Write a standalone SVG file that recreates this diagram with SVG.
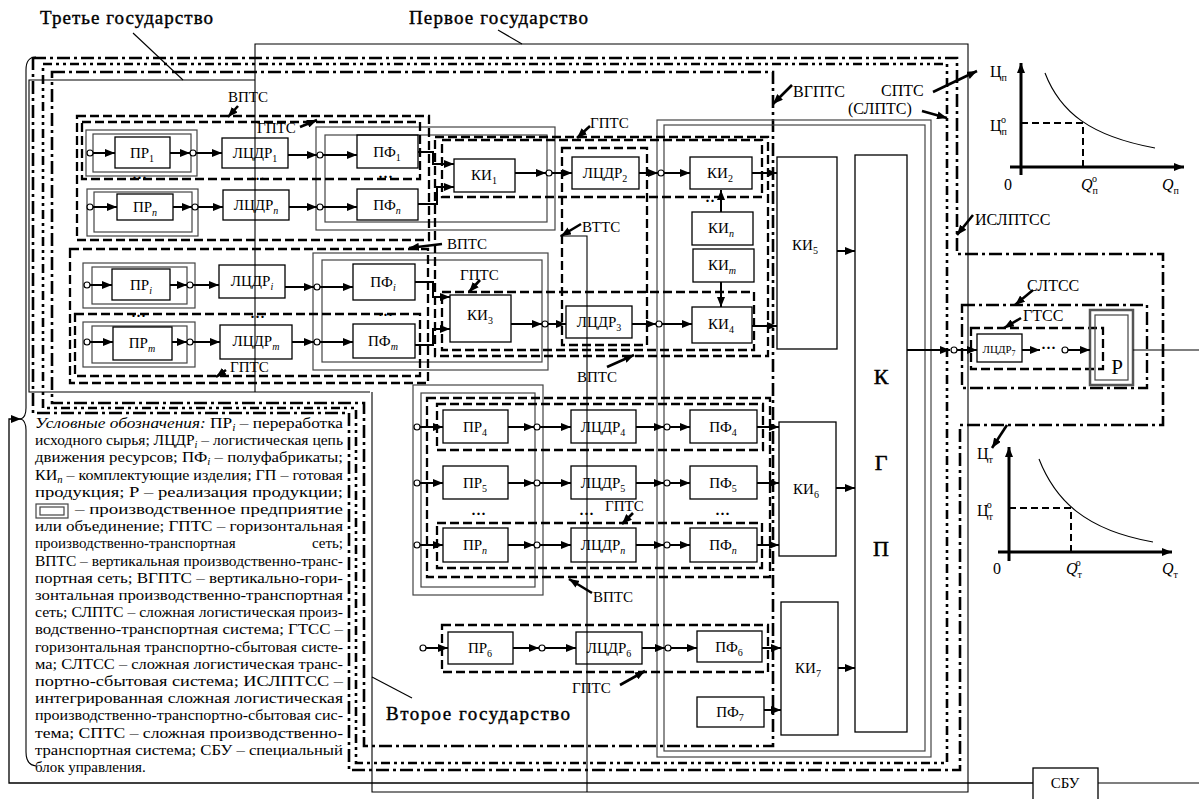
<svg xmlns="http://www.w3.org/2000/svg" width="1199" height="799" viewBox="0 0 1199 799" font-family="'Liberation Serif', 'Times New Roman', serif">
<style>
text{font-family:'Liberation Serif','Times New Roman',serif}
.t{font-size:15px;fill:#000}
.big{font-size:19px;fill:#000;stroke:#000;stroke-width:0.4}
.kgp{font-size:22px;fill:#000;stroke:#000;stroke-width:0.5}
.lg{font-size:15px;fill:#000}
.i{font-style:italic}
.bx{fill:none;stroke:#000;stroke-width:1.3}
.en{fill:none;stroke:#444;stroke-width:1.2}
.da{fill:none;stroke:#000;stroke-width:2.3;stroke-dasharray:9 4}
.dd{fill:none;stroke:#000;stroke-width:2.6;stroke-dasharray:13 4 3 4}
.dd2{fill:none;stroke:#000;stroke-width:2.6;stroke-dasharray:9 4 3 4 3 4}
.ln{fill:none;stroke:#000;stroke-width:1.1}
.ar{fill:none;stroke:#000;stroke-width:2;marker-end:url(#ah)}
.pt{fill:none;stroke:#000;stroke-width:2.6;marker-end:url(#ah)}
.c{fill:#fff;stroke:#000;stroke-width:1.2}
.ax{fill:none;stroke:#000;stroke-width:3;marker-end:url(#ah)}
.gd{fill:none;stroke:#000;stroke-width:2;stroke-dasharray:7 4}
</style>
<defs>
<marker id="ah" viewBox="0 0 10 8" refX="10" refY="4" markerWidth="10" markerHeight="8" markerUnits="userSpaceOnUse" orient="auto"><path d="M0,0 L10,4 L0,8 z"/></marker>
</defs>

<g id="countries">
<path class="ln" d="M370,392 H29 V80 H255"/>
<path class="ln" d="M255,392 V44 H968 V792 H372 V392"/>
<path class="ln" d="M560,236 H587 V792"/>
<path class="ln" d="M133,33 L183,80"/>
<path class="ln" d="M498,30 L522,44"/>
<path class="ln" d="M372,677 L412,698"/>
<text class="big" x="40" y="24" textLength="173">Третье государство</text>
<text class="big" x="409" y="24" textLength="179">Первое государство</text>
<text class="big" x="386" y="720" textLength="184">Второе государство</text>
</g>

<g id="frames">
<path class="dd" d="M33,58 H957 V254 H1163 V425 H960 V770 H349 V413 H33 Z"/>
<path class="dd2" d="M43,64 H947 V763 H356 V408 H43 Z"/>
<path class="dd" d="M52,72 H773 V746 H364 V403 H52 Z"/>
</g>

<g id="enterprises">
<rect class="en" x="86" y="130" width="111" height="46"/><rect class="en" x="93" y="134" width="98" height="38"/>
<rect class="en" x="87" y="189" width="111" height="47"/><rect class="en" x="94" y="192" width="98" height="40"/>
<rect class="en" x="83" y="263" width="112" height="45"/><rect class="en" x="92" y="267" width="95" height="37"/>
<rect class="en" x="83" y="322" width="112" height="45"/><rect class="en" x="92" y="326" width="95" height="37"/>
<rect class="en" x="316" y="127" width="239" height="103"/><rect class="en" x="325" y="135" width="222" height="87"/>
<rect class="en" x="313" y="253" width="235" height="117"/><rect class="en" x="322" y="260" width="220" height="102"/>
<rect class="en" x="413" y="385" width="130" height="210"/><rect class="en" x="421" y="393" width="114" height="194"/>
<rect class="en" x="657" y="120" width="274" height="637"/><rect class="en" x="664" y="125" width="261" height="626"/>
</g>

<g id="networks">
<rect class="da" x="77" y="116" width="352" height="124"/>
<rect class="da" x="82" y="122" width="338" height="57"/>
<rect class="da" x="70" y="249" width="358" height="134"/>
<rect class="da" x="75" y="314" width="345" height="62"/>
<rect class="da" x="435" y="137" width="333" height="219"/>
<rect class="da" x="442" y="140" width="320" height="57"/>
<rect class="da" x="562" y="148" width="85" height="197"/>
<rect class="da" x="442" y="292" width="312" height="58"/>
<rect class="da" x="427" y="398" width="343" height="179"/>
<rect class="da" x="437" y="404" width="326" height="46"/>
<rect class="da" x="437" y="523" width="325" height="45"/>
<rect class="da" x="442" y="625" width="326" height="47"/>
</g>

<g id="n-pr1"><rect class="bx" x="115" y="137" width="55" height="31"/><text class="t" x="142" y="158" text-anchor="middle">ПР<tspan font-size="10" dy="4">1</tspan></text></g>
<g id="n-prn"><rect class="bx" x="117" y="194" width="56" height="26"/><text class="t" x="145" y="212" text-anchor="middle">ПР<tspan font-size="10" dy="4" class="i">n</tspan></text></g>
<g id="n-pri"><rect class="bx" x="112" y="269" width="58" height="31"/><text class="t" x="141" y="290" text-anchor="middle">ПР<tspan font-size="10" dy="4" class="i">i</tspan></text></g>
<g id="n-prm"><rect class="bx" x="113" y="327" width="59" height="33"/><text class="t" x="142" y="348" text-anchor="middle">ПР<tspan font-size="10" dy="4" class="i">m</tspan></text></g>
<g id="n-l1"><rect class="bx" x="222" y="138" width="66" height="30"/><text class="t" x="255" y="158" text-anchor="middle">ЛЦДР<tspan font-size="10" dy="4">1</tspan></text></g>
<g id="n-ln"><rect class="bx" x="223" y="190" width="66" height="30"/><text class="t" x="256" y="210" text-anchor="middle">ЛЦДР<tspan font-size="10" dy="4" class="i">n</tspan></text></g>
<g id="n-li"><rect class="bx" x="219" y="265" width="66" height="33"/><text class="t" x="252" y="286" text-anchor="middle">ЛЦДР<tspan font-size="10" dy="4" class="i">i</tspan></text></g>
<g id="n-lm"><rect class="bx" x="220" y="325" width="72" height="34"/><text class="t" x="256" y="346" text-anchor="middle">ЛЦДР<tspan font-size="10" dy="4" class="i">m</tspan></text></g>
<g id="n-pf1"><rect class="bx" x="357" y="135" width="61" height="33"/><text class="t" x="387" y="157" text-anchor="middle">ПФ<tspan font-size="10" dy="4">1</tspan></text></g>
<g id="n-pfn"><rect class="bx" x="357" y="189" width="61" height="31"/><text class="t" x="387" y="210" text-anchor="middle">ПФ<tspan font-size="10" dy="4" class="i">n</tspan></text></g>
<g id="n-pfi"><rect class="bx" x="353" y="264" width="62" height="36"/><text class="t" x="383" y="287" text-anchor="middle">ПФ<tspan font-size="10" dy="4" class="i">i</tspan></text></g>
<g id="n-pfm"><rect class="bx" x="353" y="324" width="62" height="34"/><text class="t" x="383" y="346" text-anchor="middle">ПФ<tspan font-size="10" dy="4" class="i">m</tspan></text></g>
<g id="n-ki1"><rect class="bx" x="454" y="159" width="61" height="33"/><text class="t" x="484" y="180" text-anchor="middle">КИ<tspan font-size="10" dy="4">1</tspan></text></g>
<g id="n-ki3"><rect class="bx" x="450" y="295" width="61" height="47"/><text class="t" x="480" y="320" text-anchor="middle">КИ<tspan font-size="10" dy="4">3</tspan></text></g>
<g id="n-l2"><rect class="bx" x="572" y="157" width="67" height="32"/><text class="t" x="605" y="178" text-anchor="middle">ЛЦДР<tspan font-size="10" dy="4">2</tspan></text></g>
<g id="n-l3"><rect class="bx" x="566" y="306" width="66" height="32"/><text class="t" x="599" y="327" text-anchor="middle">ЛЦДР<tspan font-size="10" dy="4">3</tspan></text></g>
<g id="n-ki2"><rect class="bx" x="690" y="157" width="62" height="32"/><text class="t" x="720" y="178" text-anchor="middle">КИ<tspan font-size="10" dy="4">2</tspan></text></g>
<g id="n-kin"><rect class="bx" x="692" y="212" width="61" height="33"/><text class="t" x="721" y="233" text-anchor="middle">КИ<tspan font-size="10" dy="4" class="i">n</tspan></text></g>
<g id="n-kim"><rect class="bx" x="693" y="249" width="61" height="33"/><text class="t" x="722" y="270" text-anchor="middle">КИ<tspan font-size="10" dy="4" class="i">m</tspan></text></g>
<g id="n-ki4"><rect class="bx" x="692" y="307" width="60" height="36"/><text class="t" x="721" y="329" text-anchor="middle">КИ<tspan font-size="10" dy="4">4</tspan></text></g>
<g id="n-ki5"><rect class="bx" x="777" y="157" width="60" height="192"/><text class="t" x="805" y="250" text-anchor="middle">КИ<tspan font-size="10" dy="4">5</tspan></text></g>
<g id="n-ki6"><rect class="bx" x="779" y="422" width="57" height="134"/><text class="t" x="806" y="494" text-anchor="middle">КИ<tspan font-size="10" dy="4">6</tspan></text></g>
<g id="n-ki7"><rect class="bx" x="781" y="602" width="57" height="133"/><text class="t" x="808" y="673" text-anchor="middle">КИ<tspan font-size="10" dy="4">7</tspan></text></g>
<g id="n-kgp"><rect class="bx" x="855" y="155" width="52" height="577"/><text class="kgp" x="881" y="384" text-anchor="middle">К</text><text class="kgp" x="881" y="470" text-anchor="middle">Г</text><text class="kgp" x="881" y="556" text-anchor="middle">П</text></g>

<g id="n-pr4"><rect class="bx" x="443" y="410" width="65" height="33"/><text class="t" x="475" y="432" text-anchor="middle">ПР<tspan font-size="10" dy="4">4</tspan></text></g>
<g id="n-pr5"><rect class="bx" x="443" y="466" width="65" height="33"/><text class="t" x="475" y="488" text-anchor="middle">ПР<tspan font-size="10" dy="4">5</tspan></text></g>
<g id="n-prn2"><rect class="bx" x="443" y="528" width="65" height="34"/><text class="t" x="475" y="550" text-anchor="middle">ПР<tspan font-size="10" dy="4" class="i">n</tspan></text></g>
<g id="n-l4"><rect class="bx" x="571" y="410" width="65" height="33"/><text class="t" x="603" y="432" text-anchor="middle">ЛЦДР<tspan font-size="10" dy="4">4</tspan></text></g>
<g id="n-l5"><rect class="bx" x="571" y="466" width="65" height="33"/><text class="t" x="603" y="488" text-anchor="middle">ЛЦДР<tspan font-size="10" dy="4">5</tspan></text></g>
<g id="n-ln2"><rect class="bx" x="571" y="528" width="65" height="34"/><text class="t" x="603" y="550" text-anchor="middle">ЛЦДР<tspan font-size="10" dy="4" class="i">n</tspan></text></g>
<g id="n-pf4"><rect class="bx" x="690" y="410" width="67" height="33"/><text class="t" x="723" y="432" text-anchor="middle">ПФ<tspan font-size="10" dy="4">4</tspan></text></g>
<g id="n-pf5"><rect class="bx" x="690" y="466" width="67" height="33"/><text class="t" x="723" y="488" text-anchor="middle">ПФ<tspan font-size="10" dy="4">5</tspan></text></g>
<g id="n-pfn2"><rect class="bx" x="690" y="528" width="67" height="34"/><text class="t" x="723" y="550" text-anchor="middle">ПФ<tspan font-size="10" dy="4" class="i">n</tspan></text></g>
<g id="n-pr6"><rect class="bx" x="448" y="632" width="65" height="32"/><text class="t" x="480" y="653" text-anchor="middle">ПР<tspan font-size="10" dy="4">6</tspan></text></g>
<g id="n-l6"><rect class="bx" x="576" y="632" width="66" height="32"/><text class="t" x="609" y="653" text-anchor="middle">ЛЦДР<tspan font-size="10" dy="4">6</tspan></text></g>
<g id="n-pf6"><rect class="bx" x="697" y="631" width="65" height="31"/><text class="t" x="729" y="652" text-anchor="middle">ПФ<tspan font-size="10" dy="4">6</tspan></text></g>
<g id="n-pf7"><rect class="bx" x="697" y="697" width="67" height="30"/><text class="t" x="730" y="717" text-anchor="middle">ПФ<tspan font-size="10" dy="4">7</tspan></text></g>

<g id="sales">
<path class="dd" d="M962,305 H1147 V388 H962 Z" style="stroke-width:2.4"/>
<rect class="da" x="971" y="328" width="132" height="41"/>
<g id="n-l7"><rect class="bx" x="977" y="334" width="45" height="28"/><text x="999" y="353" text-anchor="middle" style="font-size:11px">ЛЦДР<tspan font-size="8" dy="3">7</tspan></text></g>
<g id="n-r"><rect x="1090" y="310" width="43" height="75" fill="none" stroke="#555" stroke-width="2.5"/><rect class="en" x="1095" y="315" width="33" height="65"/><text class="t" x="1117" y="374" text-anchor="middle" style="font-size:21px">Р</text></g>
<text class="t" x="1027" y="291" style="font-size:16px">СЛТСС</text>
<text class="t" x="1023" y="321" style="font-size:16px">ГТСС</text>
</g>

<g id="graph1">
<path class="ax" d="M1021,175 V63"/>
<path class="ax" d="M1010,167 H1184"/>
<path class="ln" d="M1045,73 C1060,112 1090,136 1155,148"/>
<path class="gd" d="M1021,123 H1083 V167"/>
<text class="t" x="990" y="77" style="font-size:16px">Ц<tspan font-size="10" dy="4">п</tspan></text>
<text class="t" x="990" y="131" style="font-size:16px">Ц<tspan font-size="10" dy="4">п</tspan><tspan font-size="10" dx="-6" dy="-12">о</tspan></text>
<text class="t" x="1004" y="190" style="font-size:16px">0</text>
<text class="t i" x="1081" y="190" style="font-size:16px">Q<tspan font-size="10" dy="4" font-style="normal">п</tspan><tspan font-size="10" dx="-6" dy="-12" font-style="normal">о</tspan></text>
<text class="t i" x="1162" y="190" style="font-size:16px">Q<tspan font-size="10" dy="4" font-style="normal">п</tspan></text>
</g>
<g id="graph2">
<path class="ax" d="M1009,561 V447"/>
<path class="ax" d="M998,552 H1172"/>
<path class="ln" d="M1039,459 C1055,500 1085,530 1153,542"/>
<path class="gd" d="M1009,508 H1071 V552"/>
<text class="t" x="977" y="459" style="font-size:16px">Ц<tspan font-size="10" dy="4">т</tspan></text>
<text class="t" x="977" y="516" style="font-size:16px">Ц<tspan font-size="10" dy="4">т</tspan><tspan font-size="10" dx="-6" dy="-12">о</tspan></text>
<text class="t" x="993" y="574" style="font-size:16px">0</text>
<text class="t i" x="1066" y="574" style="font-size:16px">Q<tspan font-size="10" dy="4" font-style="normal">т</tspan><tspan font-size="10" dx="-6" dy="-12" font-style="normal">о</tspan></text>
<text class="t i" x="1162" y="574" style="font-size:16px">Q<tspan font-size="10" dy="4" font-style="normal">т</tspan></text>
</g>

<g id="n-sbu"><rect class="bx" x="1033" y="768" width="65" height="33"/><text class="t" x="1065" y="788" text-anchor="middle">СБУ</text></g>

<g id="connectors">
<circle class="c" cx="90" cy="153" r="3"/><path class="ar" d="M93,153H115"/>
<path class="ar" d="M170,153H190"/><circle class="c" cx="193" cy="153" r="3"/><path class="ar" d="M196,153H222"/>
<path class="ar" d="M288,155H317"/><circle class="c" cx="320" cy="155" r="3"/><path class="ar" d="M323,155H357"/>
<path class="ar" d="M418,152H433V164H454"/>
<circle class="c" cx="90" cy="207" r="3"/><path class="ar" d="M93,207H117"/>
<path class="ar" d="M173,207H192"/><circle class="c" cx="195" cy="207" r="3"/><path class="ar" d="M198,207H223"/>
<path class="ar" d="M289,207H317"/><circle class="c" cx="320" cy="207" r="3"/><path class="ar" d="M323,207H357"/>
<path class="ar" d="M418,204H437V187H454"/>
<circle class="c" cx="87" cy="285" r="3"/><path class="ar" d="M90,285H112"/>
<path class="ar" d="M170,285H187"/><circle class="c" cx="190" cy="285" r="3"/><path class="ar" d="M193,285H219"/>
<path class="ar" d="M285,287H314"/><circle class="c" cx="317" cy="287" r="3"/><path class="ar" d="M320,287H353"/>
<path class="ar" d="M415,282H433V297H450"/>
<circle class="c" cx="87" cy="342" r="3"/><path class="ar" d="M90,342H113"/>
<path class="ar" d="M172,342H187"/><circle class="c" cx="190" cy="342" r="3"/><path class="ar" d="M193,342H220"/>
<path class="ar" d="M292,342H314"/><circle class="c" cx="317" cy="342" r="3"/><path class="ar" d="M320,342H353"/>
<path class="ar" d="M415,345H433V329H450"/>
<path class="ar" d="M515,173H546"/><circle class="c" cx="549" cy="173" r="3"/><path class="ar" d="M552,173H572"/>
<path class="ar" d="M639,173H658"/><circle class="c" cx="661" cy="173" r="3"/><path class="ar" d="M664,173H690"/>
<path class="ar" d="M752,173H777"/>
<path class="ar" d="M721,212V190"/>
<path class="ar" d="M721,282V307"/>
<path class="ar" d="M511,324H542"/><circle class="c" cx="545" cy="324" r="3"/><path class="ar" d="M548,324H566"/>
<path class="ar" d="M632,324H656"/><circle class="c" cx="659" cy="324" r="3"/><path class="ar" d="M662,324H692"/>
<path class="ar" d="M752,326H777"/>
<circle class="c" cx="417" cy="427" r="3"/><path class="ar" d="M420,427H443"/><path class="ar" d="M508,427H534"/><circle class="c" cx="537" cy="427" r="3"/><path class="ar" d="M540,427H571"/><path class="ar" d="M636,427H664"/><circle class="c" cx="667" cy="427" r="3"/><path class="ar" d="M670,427H690"/><path class="ar" d="M757,427H779"/>
<circle class="c" cx="417" cy="483" r="3"/><path class="ar" d="M420,483H443"/><path class="ar" d="M508,483H534"/><circle class="c" cx="537" cy="483" r="3"/><path class="ar" d="M540,483H571"/><path class="ar" d="M636,483H664"/><circle class="c" cx="667" cy="483" r="3"/><path class="ar" d="M670,483H690"/><path class="ar" d="M757,483H779"/>
<circle class="c" cx="417" cy="545" r="3"/><path class="ar" d="M420,545H443"/><path class="ar" d="M508,545H534"/><circle class="c" cx="537" cy="545" r="3"/><path class="ar" d="M540,545H571"/><path class="ar" d="M636,545H664"/><circle class="c" cx="667" cy="545" r="3"/><path class="ar" d="M670,545H690"/><path class="ar" d="M757,545H779"/>
<circle class="c" cx="423" cy="648" r="3"/><path class="ar" d="M426,648H448"/><path class="ar" d="M513,648H539"/><circle class="c" cx="542" cy="648" r="3"/><path class="ar" d="M545,648H576"/><path class="ar" d="M642,648H665"/><circle class="c" cx="668" cy="648" r="3"/><path class="ar" d="M671,648H697"/><path class="ar" d="M762,648H781"/>
<path class="ar" d="M764,710H781"/>
<path class="ar" d="M837,251H855"/>
<path class="ar" d="M836,488H855"/>
<path class="ar" d="M838,668H855"/>
<path class="ar" d="M907,350H950"/><circle class="c" cx="954" cy="350" r="3"/><path class="ar" d="M957,350H977"/>
<path class="ar" d="M1022,350H1040"/><text class="t" x="1041" y="353" style="font-weight:bold">···</text><circle class="c" cx="1065" cy="350" r="3"/><path class="ar" d="M1068,350H1090"/>
<path class="ln" d="M1133,350H1199"/>
<path class="ar" d="M1033,783 H9 V419 H21" style="stroke-width:1.3"/>
<path class="ln" d="M1098,783 H1199"/>
<path class="ln" d="M36,57 Q26,57 26,70 V408 Q26,417 21,419 Q26,421 26,430 V752 Q26,765 36,766"/>
</g>

<g id="dots">
<text class="t" x="132" y="183" style="font-weight:bold">···</text>
<text class="t" x="250" y="184" style="font-weight:bold">···</text>
<text class="t" x="378" y="182" style="font-weight:bold">···</text>
<text class="t" x="131" y="321" style="font-weight:bold">···</text>
<text class="t" x="250" y="322" style="font-weight:bold">···</text>
<text class="t" x="378" y="320" style="font-weight:bold">···</text>
<text class="t" x="705" y="206" style="font-weight:bold">··</text>
<text class="t" x="471" y="519" style="font-weight:bold">···</text>
<text class="t" x="579" y="519" style="font-weight:bold">···</text>
<text class="t" x="715" y="519" style="font-weight:bold">···</text>
</g>

<g id="labels">
<text class="t" x="228" y="102">ВПТС</text><path class="pt" d="M238,106 L228,117"/>
<text class="t" x="257" y="133">ГПТС</text><path class="pt" d="M300,127 L317,120"/>
<text class="t" x="590" y="128">ГПТС</text><path class="pt" d="M590,126 L577,138"/>
<text class="t" x="582" y="232">ВТТС</text><path class="pt" d="M581,224 L561,236"/>
<text class="t" x="447" y="249">ВПТС</text><path class="pt" d="M442,244 L409,248"/>
<text class="t" x="460" y="280">ГПТС</text><path class="pt" d="M480,280 L469,292"/>
<text class="t" x="577" y="382">ВПТС</text><path class="pt" d="M607,367 L634,355"/>
<text class="t" x="230" y="372">ГПТС</text><path class="pt" d="M226,370 L216,377"/>
<text class="t" x="605" y="511">ГПТС</text><path class="pt" d="M633,513 L622,524"/>
<text class="t" x="593" y="602">ВПТС</text><path class="pt" d="M592,593 L569,579"/>
<text class="t" x="572" y="693">ГПТС</text><path class="pt" d="M620,685 L645,671"/>
<text class="t" x="793" y="97" style="font-size:16px">ВГПТС</text><path class="pt" d="M792,85 L773,104"/>
<text class="t" x="881" y="96" style="font-size:16px">СПТС</text><path class="pt" d="M933,92 L977,71"/>
<text class="t" x="848" y="114" style="font-size:16px">(СЛПТС)</text><path class="pt" d="M922,111 L947,118"/>
<text class="t" x="975" y="225" style="font-size:16px">ИСЛПТСС</text><path class="pt" d="M973,215 L957,235"/>
<path class="pt" d="M1033,290 L1015,305"/>
<path class="pt" d="M1021,318 L1004,328"/>
<path class="pt" d="M1007,425 L992,448"/>
</g>

<g id="legend">
<text class="lg" x="35" y="428" textLength="308" lengthAdjust="spacingAndGlyphs"><tspan class="i">Условные обозначения:</tspan> ПР<tspan font-size="10" dy="3" class="i">i</tspan><tspan dy="-3"> – переработка</tspan></text>
<text class="lg" x="35" y="445" textLength="308" lengthAdjust="spacingAndGlyphs">исходного сырья; ЛЦДР<tspan font-size="10" dy="3" class="i">i</tspan><tspan dy="-3"> – логистическая цепь</tspan></text>
<text class="lg" x="35" y="462" textLength="308" lengthAdjust="spacingAndGlyphs">движения ресурсов; ПФ<tspan font-size="10" dy="3" class="i">i</tspan><tspan dy="-3"> – полуфабрикаты;</tspan></text>
<text class="lg" x="35" y="480" textLength="308" lengthAdjust="spacingAndGlyphs">КИ<tspan font-size="10" dy="3" class="i">n</tspan><tspan dy="-3"> – комплектующие изделия; ГП – готовая</tspan></text>
<text class="lg" x="35" y="497" textLength="308" lengthAdjust="spacingAndGlyphs">продукция;  Р  –  реализация  продукции;</text>
<rect class="en" x="36" y="504" width="32" height="14"/><rect class="en" x="40" y="507" width="24" height="8"/>
<text class="lg" x="75" y="514" textLength="268" lengthAdjust="spacingAndGlyphs">–  производственное  предприятие</text>
<text class="lg" x="35" y="531" textLength="308" lengthAdjust="spacingAndGlyphs">или объединение; ГПТС – горизонтальная</text>
<text class="lg" x="35" y="548">производственно-транспортная</text><text class="lg" x="343" y="548" text-anchor="end">сеть;</text>
<text class="lg" x="35" y="566" textLength="308" lengthAdjust="spacingAndGlyphs">ВПТС – вертикальная производственно-транс-</text>
<text class="lg" x="35" y="583" textLength="308" lengthAdjust="spacingAndGlyphs">портная сеть; ВГПТС – вертикально-гори-</text>
<text class="lg" x="35" y="600" textLength="308" lengthAdjust="spacingAndGlyphs">зонтальная   производственно-транспортная</text>
<text class="lg" x="35" y="617" textLength="308" lengthAdjust="spacingAndGlyphs">сеть; СЛПТС – сложная логистическая произ-</text>
<text class="lg" x="35" y="634" textLength="308" lengthAdjust="spacingAndGlyphs">водственно-транспортная  система;  ГТСС –</text>
<text class="lg" x="35" y="652" textLength="308" lengthAdjust="spacingAndGlyphs">горизонтальная транспортно-сбытовая систе-</text>
<text class="lg" x="35" y="669" textLength="308" lengthAdjust="spacingAndGlyphs">ма; СЛТСС – сложная логистическая транс-</text>
<text class="lg" x="35" y="686" textLength="308" lengthAdjust="spacingAndGlyphs">портно-сбытовая   система;   ИСЛПТСС   –</text>
<text class="lg" x="35" y="703" textLength="308" lengthAdjust="spacingAndGlyphs">интегрированная   сложная   логистическая</text>
<text class="lg" x="35" y="720" textLength="308" lengthAdjust="spacingAndGlyphs">производственно-транспортно-сбытовая  сис-</text>
<text class="lg" x="35" y="738" textLength="308" lengthAdjust="spacingAndGlyphs">тема;   СПТС –  сложная   производственно-</text>
<text class="lg" x="35" y="755" textLength="308" lengthAdjust="spacingAndGlyphs">транспортная система; СБУ – специальный</text>
<text class="lg" x="35" y="772">блок управления.</text>
</g>
</svg>
